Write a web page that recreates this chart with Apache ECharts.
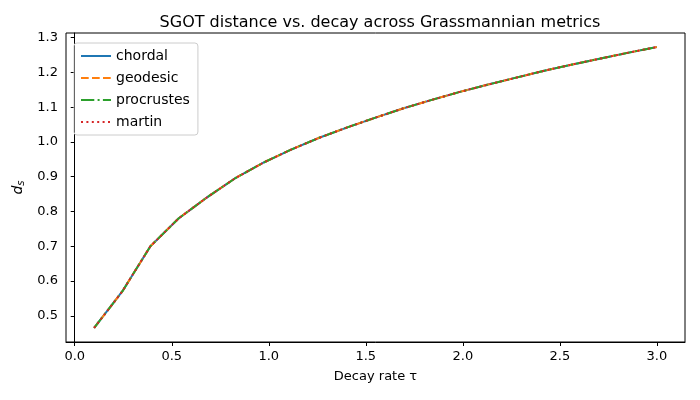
<!DOCTYPE html>
<html>
<head>
<meta charset="utf-8">
<script src="https://cdn.jsdelivr.net/npm/echarts@6/dist/echarts.min.js"></script>
<style>
  html, body { margin: 0; padding: 0; background: #fff; }
  #chart { width: 700px; height: 400px; }
</style>
</head>
<body>
<div id="chart"></div>
<script>
const tau = [0.1, 0.245, 0.39, 0.535, 0.68, 0.825, 0.97, 1.115, 1.26, 1.405, 1.55,
             1.695, 1.84, 1.985, 2.13, 2.275, 2.42, 2.565, 2.71, 2.855, 3.0];
const dist = [0.465, 0.57, 0.70, 0.78, 0.84, 0.895, 0.94, 0.978, 1.012, 1.042, 1.07,
              1.097, 1.121, 1.144, 1.165, 1.185, 1.205, 1.223, 1.24, 1.257, 1.273];
const metrics = ["chordal", "geodesic", "procrustes", "martin"];
const xTicks = [0, 0.5, 1.0, 1.5, 2.0, 2.5, 3.0];
const yTicks = [0.5, 0.6, 0.7, 0.8, 0.9, 1.0, 1.1, 1.2, 1.3];

const colors = ["#1f77b4", "#ff7f0e", "#2ca02c", "#d62728"];
const dashes = ["solid", [7.7, 3.3], [13.3, 3.3, 2, 3.3], [2, 3.4]];

const chart = echarts.init(document.getElementById("chart"));
const font = "DejaVu Sans";
const pts = tau.map((t, i) => [t, dist[i]]);

chart.setOption({
  animation: false,
  textStyle: { fontFamily: font },
  title: {
    text: "SGOT distance vs. decay across Grassmannian metrics",
    left: 375, top: 10, textAlign: "center",
    textStyle: { fontFamily: font, fontSize: 16, fontWeight: "normal", color: "#000" }
  },
  legend: {
    left: 74, top: 43, orient: "vertical",
    itemWidth: 30, itemHeight: 3, itemGap: 8,
    padding: [6, 8, 6, 6],
    borderColor: "#ccc", borderWidth: 1, borderRadius: 3,
    itemStyle: { opacity: 0 },
    textStyle: { fontFamily: font, fontSize: 14, color: "#000" },
    data: metrics
  },
  grid: { left: 66, right: 15, top: 33, bottom: 58, show: true, borderColor: "#000", borderWidth: 1 },
  xAxis: {
    type: "value", min: -0.045, max: 3.145,
    name: "Decay rate τ", nameLocation: "middle", nameGap: 28,
    nameTextStyle: { fontFamily: font, fontSize: 13, color: "#000" },
    axisLine: { show: true, lineStyle: { color: "#000" } },
    axisTick: { show: true, length: 4, customValues: xTicks, lineStyle: { color: "#000" } },
    axisLabel: { customValues: xTicks, fontFamily: font, fontSize: 13, color: "#000",
                 formatter: v => v.toFixed(1) },
    splitLine: { show: false }
  },
  yAxis: {
    type: "value", min: 0.4246, max: 1.3134,
    name: "{a|d}{b|s}", nameLocation: "middle", nameGap: 40, nameRotate: 90,
    nameTextStyle: { rich: {
      a: { fontFamily: font, fontSize: 14, color: "#000", fontStyle: "italic" },
      b: { fontFamily: font, fontSize: 10, color: "#000", fontStyle: "italic", padding: [6, 0, 0, 0] }
    } },
    axisLine: { show: true, lineStyle: { color: "#000" } },
    axisTick: { show: true, length: 4, customValues: yTicks, lineStyle: { color: "#000" } },
    axisLabel: { customValues: yTicks, fontFamily: font, fontSize: 13, color: "#000",
                 formatter: v => v.toFixed(1) },
    splitLine: { show: false }
  },
  series: metrics.map((m, i) => ({
    name: m, type: "line", data: pts, showSymbol: false, symbol: "none",
    lineStyle: { color: colors[i], width: 2, type: dashes[i] },
    itemStyle: { color: colors[i] }
  }))
});
</script>
</body>
</html>
